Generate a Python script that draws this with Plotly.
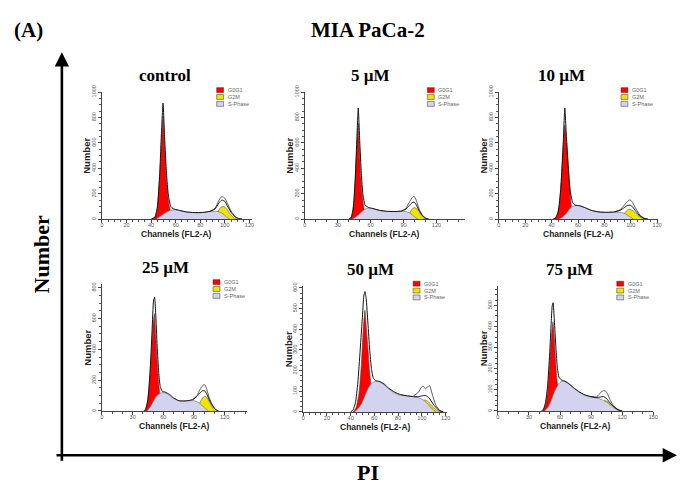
import plotly.graph_objects as go

W, H = 682, 488

panel_titles = ["control", "5 µM", "10 µM", "25 µM", "50 µM", "75 µM"]
legend_labels = ["G0G1", "G2M", "S-Phase"]
legend_colors = ["#ff0000", "#f2e200", "#d3d3f0"]

# ---------------- data (channel, count) ----------------
# control
ctrl_g1_ch = [41, 43, 45, 47, 48.5, 49.7, 51, 52.5, 54, 55.5, 57]
ctrl_g1 = [0, 15, 80, 330, 620, 810, 560, 300, 150, 70, 0]
ctrl_s_ch = [44, 47, 50, 53, 56, 59, 63, 68, 73, 78, 83, 88, 92, 95, 98, 101, 104]
ctrl_s = [0, 20, 40, 58, 70, 74, 68, 58, 52, 50, 53, 60, 62, 58, 45, 20, 0]
ctrl_g2_ch = [90, 93, 95, 97, 98.5, 100, 102, 104, 106, 108, 110]
ctrl_g2 = [0, 30, 70, 95, 100, 95, 75, 45, 22, 7, 0]
ctrl_fit_ch = [40, 43, 45, 47, 48.5, 49.7, 51, 52.5, 54, 56, 58, 62, 68, 75, 82, 88, 92, 95, 97.5, 100, 102, 105, 108, 111, 114]
ctrl_fit = [0, 15, 90, 360, 700, 913, 640, 360, 190, 100, 82, 72, 58, 52, 53, 62, 80, 125, 150, 140, 105, 55, 20, 5, 0]
ctrl_dat_ch = [88, 92, 95, 97.5, 100, 102, 105, 108, 111, 114]
ctrl_dat = [62, 85, 145, 178, 165, 125, 65, 25, 6, 0]

# 5 µM
c5_g1_ch = [41, 43, 45, 46.5, 47.8, 48.7, 49.8, 51, 52.5, 54, 55.5]
c5_g1 = [0, 30, 150, 400, 650, 755, 560, 330, 170, 80, 0]
c5_s_ch = [43, 46, 49, 52, 55, 58, 62, 67, 72, 78, 84, 90, 94, 97, 100, 103]
c5_s = [0, 15, 35, 60, 80, 88, 82, 70, 62, 60, 60, 62, 55, 40, 18, 0]
c5_g2_ch = [92, 94.5, 97, 99, 100.5, 102, 104, 106, 108, 110]
c5_g2 = [0, 30, 70, 88, 90, 82, 60, 32, 10, 0]
c5_fit_ch = [40, 42, 44, 46, 47.5, 48.7, 50, 51.5, 53, 55, 58, 62, 68, 75, 82, 88, 92, 95, 97.5, 99.5, 101.5, 104, 107, 110, 113]
c5_fit = [0, 10, 80, 330, 650, 875, 620, 360, 190, 110, 92, 84, 70, 62, 60, 64, 78, 105, 128, 135, 115, 70, 30, 8, 0]
c5_dat_ch = [88, 92, 95, 97.5, 99.5, 101.5, 104, 107, 110, 113]
c5_dat = [64, 85, 130, 165, 180, 150, 85, 35, 8, 0]

# 10 µM
c10_g1_ch = [42, 44, 46, 48, 49.2, 50, 51, 52.3, 53.5, 54.8, 56, 57]
c10_g1 = [0, 25, 120, 420, 640, 740, 650, 470, 280, 120, 30, 0]
c10_s_ch = [45, 48, 51, 54, 57, 60, 63, 67, 71, 76, 82, 88, 93, 96, 99, 102]
c10_s = [0, 15, 45, 85, 105, 108, 100, 82, 65, 55, 53, 54, 52, 42, 22, 0]
c10_g2_ch = [91, 94, 96.5, 98.5, 100, 102, 104, 106.5, 109, 111]
c10_g2 = [0, 30, 62, 77, 75, 65, 45, 22, 6, 0]
c10_fit_ch = [41, 43, 45, 47, 48.8, 50, 51.2, 52.5, 54, 56, 58, 61, 65, 70, 76, 82, 88, 92, 95, 97.5, 99.5, 101.5, 104, 107, 110, 113]
c10_fit = [0, 10, 60, 250, 600, 875, 650, 430, 230, 130, 110, 106, 92, 70, 57, 54, 58, 70, 90, 108, 110, 95, 60, 25, 7, 0]
c10_dat_ch = [88, 92, 95, 97.5, 99.5, 101.5, 104, 107, 110, 113]
c10_dat = [58, 75, 110, 140, 152, 130, 80, 32, 8, 0]

# 25 µM
c25_g1_ch = [42, 44, 46, 48, 50, 51.3, 52.5, 54, 55.5, 57, 58.5]
c25_g1 = [0, 40, 140, 330, 560, 632, 500, 320, 180, 89, 0]
c25_s_ch = [44, 47, 50, 53, 56, 60, 64, 68, 72, 76, 80, 85, 89, 93, 96, 99, 102, 104]
c25_s = [0, 25, 60, 95, 112, 120, 110, 90, 75, 66, 64, 66, 68, 60, 48, 28, 10, 0]
c25_g2_ch = [91, 94, 97, 99.5, 101, 103, 105, 107, 109, 111]
c25_g2 = [0, 30, 70, 92, 96, 85, 60, 35, 12, 0]
c25_fit_ch = [41, 43, 45, 47, 49, 50.5, 51.5, 52.5, 54, 55.5, 57, 59, 62, 66, 70, 75, 80, 85, 89, 93, 96, 98.5, 100.5, 102.5, 105, 108, 111, 114]
c25_fit = [0, 15, 80, 250, 520, 720, 738, 640, 420, 250, 160, 128, 122, 108, 85, 67, 65, 68, 75, 95, 118, 132, 130, 110, 72, 35, 10, 0]
c25_dat_ch = [89, 93, 96, 98.5, 100.5, 102.5, 105, 108, 111, 114]
c25_dat = [75, 100, 140, 165, 170, 140, 85, 40, 10, 0]

# 50 µM
c50_g1_ch = [42, 44.5, 47, 49, 50.5, 52, 53.3, 54.7, 56, 57.5, 59]
c50_g1 = [0, 20, 90, 230, 390, 492, 400, 294, 190, 110, 0]
c50_s_ch = [43, 46, 49, 52, 55, 58, 61, 64, 68, 72, 76, 81, 86, 91, 95, 99, 102, 105, 108, 112]
c50_s = [0, 15, 40, 80, 118, 140, 148, 146, 132, 112, 95, 82, 78, 75, 72, 65, 55, 38, 18, 0]
c50_g2_ch = [98, 102, 104, 106, 108, 110, 112, 114, 116]
c50_g2 = [0, 58, 55, 45, 34, 20, 10, 4, 0]
c50_fit_ch = [40, 42, 44, 46, 48, 50, 51, 52, 53, 54.5, 56, 57.5, 59, 61, 64, 68, 72, 77, 82, 88, 93, 97, 100, 103, 106, 109, 112, 115, 118]
c50_fit = [0, 10, 45, 140, 300, 470, 560, 582, 550, 430, 300, 210, 165, 152, 148, 136, 115, 96, 84, 78, 74, 74, 78, 80, 68, 42, 20, 6, 0]
c50_dat_ch = [93, 97, 99.5, 101, 103, 105, 106.5, 108, 110, 112, 115, 118]
c50_dat = [78, 95, 120, 126, 112, 122, 127, 100, 60, 30, 8, 0]

# 75 µM
c75_g1_ch = [43, 45.5, 48, 50, 51.8, 53.2, 54.5, 55.7, 57, 58.5, 60]
c75_g1 = [0, 20, 90, 220, 360, 422, 340, 236, 150, 96, 0]
c75_s_ch = [45, 48, 51, 54, 57, 60, 63, 66, 70, 74, 78, 83, 88, 93, 98, 102, 106, 110, 114, 117]
c75_s = [0, 15, 45, 85, 115, 135, 142, 140, 125, 105, 90, 76, 68, 63, 58, 50, 38, 22, 8, 0]
c75_g2_ch = [100, 103, 105, 107, 109, 111, 113, 115, 117, 119]
c75_g2 = [0, 49, 46, 40, 32, 24, 16, 9, 4, 0]
c75_fit_ch = [42, 44, 46, 48, 50, 51.5, 52.5, 53.3, 54.5, 56, 57.5, 59, 61, 64, 68, 73, 78, 84, 90, 95, 99, 102, 105, 108, 111, 114, 117, 120]
c75_fit = [0, 8, 40, 120, 270, 420, 500, 512, 430, 300, 200, 160, 148, 142, 130, 110, 92, 76, 68, 64, 66, 68, 58, 40, 24, 12, 4, 0]
c75_dat_ch = [90, 95, 98, 100, 102, 104, 106, 108, 111, 114, 117, 120]
c75_dat = [68, 66, 80, 92, 96, 94, 80, 55, 30, 14, 4, 0]

# G1 / G2 peak markers (channel)
g1_mean = [49.7, 49.4, 50.8, 51.0, 52.0, 53.8]
g2_mean = [98.0, 98.4, 99.0, 100.6, 104.0, 102.5]

# axis ranges and ticks
x_max = [122, 146, 121, 142, 121, 150]
x_dtick = [20, 30, 20, 30, 20, 30]
x_minor = [5, 10, 5, 10, 5, 10]
y_max = [1000, 1000, 1000, 824, 611, 593]
y_dtick = [200, 200, 200, 200, 100, 100]
y_minor = [50, 50, 50, 50, 25, 25]

panels = [
    (ctrl_g1_ch, ctrl_g1, ctrl_s_ch, ctrl_s, ctrl_g2_ch, ctrl_g2, ctrl_fit_ch, ctrl_fit, ctrl_dat_ch, ctrl_dat),
    (c5_g1_ch, c5_g1, c5_s_ch, c5_s, c5_g2_ch, c5_g2, c5_fit_ch, c5_fit, c5_dat_ch, c5_dat),
    (c10_g1_ch, c10_g1, c10_s_ch, c10_s, c10_g2_ch, c10_g2, c10_fit_ch, c10_fit, c10_dat_ch, c10_dat),
    (c25_g1_ch, c25_g1, c25_s_ch, c25_s, c25_g2_ch, c25_g2, c25_fit_ch, c25_fit, c25_dat_ch, c25_dat),
    (c50_g1_ch, c50_g1, c50_s_ch, c50_s, c50_g2_ch, c50_g2, c50_fit_ch, c50_fit, c50_dat_ch, c50_dat),
    (c75_g1_ch, c75_g1, c75_s_ch, c75_s, c75_g2_ch, c75_g2, c75_fit_ch, c75_fit, c75_dat_ch, c75_dat),
]

# ---------------- layout geometry (pixels) ----------------
geom = [  # x of channel 0, px per channel, y of zero line, y of axis top
    (101, 1.2417, 215.7, 86.5),
    (306, 1.108, 215.7, 86.5),
    (502, 1.333, 215.7, 86.5),
    (101, 1.033, 410.7, 281.7),
    (304.3, 1.2, 411.7, 283.3),
    (501, 1.047, 410.7, 283.3),
]
title_cx = [165, 372, 565, 165, 372, 573]


def px(x):
    return x / W


def py(y):
    return 1 - y / H


def note(x, y, text, font, **kw):
    d = dict(x=px(x), y=py(y), xref="paper", yref="paper", text=text, showarrow=False,
             xanchor="center", yanchor="middle", font=font)
    d.update(kw)
    return d


fig = go.Figure()
shapes = []
annotations = []
TICKFONT = dict(family="Liberation Sans", size=5.5, color="#555")

for i, (g1c, g1, sc, s, g2c, g2, fc, fv, dc, dv) in enumerate(panels):
    n = "" if i == 0 else str(i + 1)
    xa, ya = "x" + n, "y" + n
    x0, ppc, yz, yt = geom[i]
    x1 = x0 + x_max[i] * ppc
    common = dict(xaxis=xa, yaxis=ya, hoverinfo="skip", showlegend=False)
    fig.add_trace(go.Scatter(x=g2c, y=g2, fill="tozeroy", fillcolor=legend_colors[1],
                             mode="lines", line=dict(color="#555", width=0.6, shape="spline", smoothing=0.6), **common))
    fig.add_trace(go.Scatter(x=g1c, y=g1, fill="tozeroy", fillcolor=legend_colors[0],
                             mode="lines", line=dict(color="#444", width=0.6, shape="spline", smoothing=0.5), **common))
    fig.add_trace(go.Scatter(x=sc, y=s, fill="tozeroy", fillcolor=legend_colors[2],
                             mode="lines", line=dict(color="#666", width=0.6, shape="spline", smoothing=0.8), **common))
    fig.add_trace(go.Scatter(x=dc, y=dv, mode="lines",
                             line=dict(color="#333", width=0.8, shape="spline", smoothing=0.6), **common))
    fig.add_trace(go.Scatter(x=fc, y=fv, mode="lines",
                             line=dict(color="#111", width=1.0, shape="spline", smoothing=0.5), **common))
    fig.add_trace(go.Scatter(x=[g1_mean[i], g2_mean[i]], y=[-0.03 * y_max[i]] * 2, mode="markers",
                             marker=dict(symbol="triangle-up", size=6, color="black"),
                             cliponaxis=False, **common))

    fig.update_layout(**{
        ("xaxis" + n): dict(domain=[px(x0), px(x1)], anchor=ya, range=[0, x_max[i]],
                            dtick=x_dtick[i], tick0=0, ticks="outside", ticklen=3, tickwidth=0.8,
                            tickcolor="#444", showline=True, linecolor="#444", linewidth=1,
                            showgrid=False, zeroline=False, tickfont=TICKFONT, ticklabelstandoff=-3,
                            minor=dict(dtick=x_minor[i], ticks="outside", ticklen=2, tickcolor="#555")),
        ("yaxis" + n): dict(domain=[py(yz), py(yt)], anchor=xa, range=[0, y_max[i]],
                            dtick=y_dtick[i], tick0=0, ticks="outside", ticklen=3, tickwidth=0.8,
                            tickcolor="#444", showline=True, linecolor="#444", linewidth=1,
                            showgrid=False, zeroline=False, tickfont=TICKFONT, tickangle=-90,
                            ticklabelstandoff=0,
                            minor=dict(dtick=y_minor[i], ticks="outside", ticklen=2, tickcolor="#555")),
    })

    # panel title
    annotations.append(note(title_cx[i], yt - 16.5, "<b>%s</b>" % panel_titles[i],
                            dict(family="Liberation Serif", size=17, color="black")))
    # axis titles
    annotations.append(note(x0 - 15, (yz + yt) / 2, "<b>Number</b>",
                            dict(family="Liberation Sans", size=9.5, color="#222"), textangle=-90))
    annotations.append(note((x0 + x1) / 2, yz + 15, "<b>Channels (FL2-A)</b>",
                            dict(family="Liberation Sans", size=8.5, color="#222")))
    # mini legend
    lx = x0 + 0.765 * (x1 - x0)
    for k in range(3):
        cy = yt - 2 + 7 * k
        shapes.append(dict(type="rect", xref="paper", yref="paper",
                           x0=px(lx), x1=px(lx + 7), y0=py(cy + 2.5), y1=py(cy - 2.5),
                           fillcolor=legend_colors[k], line=dict(color="#333", width=0.5)))
        annotations.append(note(lx + 9, cy, legend_labels[k],
                                dict(family="Liberation Sans", size=5.5, color="#666"), xanchor="left"))

# outer axes with arrows
annotations.append(dict(x=px(60.5), y=py(46), xref="paper", yref="paper", text="",
                        showarrow=True, ax=0, ay=410, arrowhead=2, arrowsize=1.1,
                        arrowwidth=2.6, arrowcolor="black"))
annotations.append(dict(x=px(682), y=py(455.7), xref="paper", yref="paper", text="",
                        showarrow=True, ax=-622, ay=0, arrowhead=2, arrowsize=1.1,
                        arrowwidth=2.6, arrowcolor="black"))

# big labels
annotations += [
    note(27, 23, "<b>(A)</b>", dict(family="Liberation Serif", size=21, color="black")),
    note(370, 23, "<b>MIA PaCa-2</b>", dict(family="Liberation Serif", size=21, color="black")),
    note(40, 252, "<b>Number</b>", dict(family="Liberation Serif", size=22, color="black"), textangle=-90),
    note(370, 473, "<b>PI</b>", dict(family="Liberation Serif", size=22, color="black")),
]

fig.update_layout(width=W, height=H, margin=dict(l=0, r=0, t=0, b=0),
                  paper_bgcolor="white", plot_bgcolor="white", showlegend=False,
                  shapes=shapes, annotations=annotations)

fig.write_html("out.html", config={"displayModeBar": False},
               post_script="document.body.style.margin='0px';")
